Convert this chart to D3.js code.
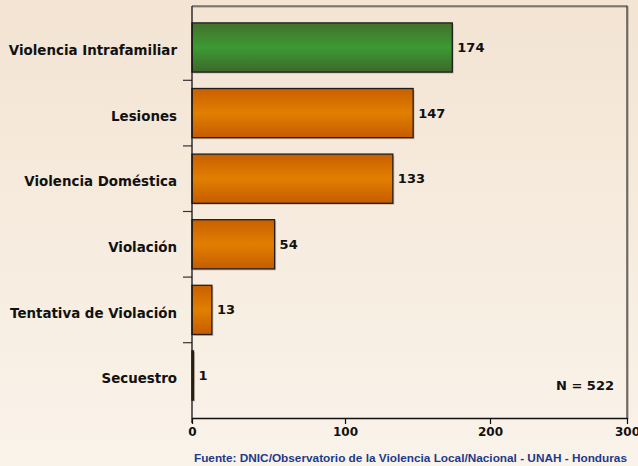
<!DOCTYPE html>
<html>
<head>
<meta charset="utf-8">
<script src="https://cdn.jsdelivr.net/npm/d3@7"></script>
<style>
  body{margin:0;padding:0;}
  svg{display:block;}
</style>
</head>
<body>
<div id="chart"></div>
<script>
const categories=["Violencia Intrafamiliar","Lesiones","Violencia Doméstica","Violación","Tentativa de Violación","Secuestro"];
const values=[174,147,133,54,13,1];
const highlight=["Violencia Intrafamiliar"];
const xTicks=[0,100,200,300];
const total="N = 522";
const source="Fuente: DNIC/Observatorio de la Violencia Local/Nacional - UNAH - Honduras";

const w=638;
const h=466;
const plotL=192, plotR=627, plotT=6, plotB=418;

const svg=d3.select("#chart").append("svg").attr("width",w).attr("height",h);
const defs=svg.append("defs");

const bg=defs.append("linearGradient").attr("id","bg").attr("x1",0).attr("y1",0).attr("x2",0).attr("y2",1);
bg.append("stop").attr("offset","0%").attr("stop-color","#f3e4d3");
bg.append("stop").attr("offset","100%").attr("stop-color","#faf3ea");

function barGrad(id,edgeTop,mid,edgeBot){
  const g=defs.append("linearGradient").attr("id",id).attr("x1",0).attr("y1",0).attr("x2",0).attr("y2",1);
  g.append("stop").attr("offset","0%").attr("stop-color",edgeTop);
  g.append("stop").attr("offset","50%").attr("stop-color",mid);
  g.append("stop").attr("offset","100%").attr("stop-color",edgeBot);
}
barGrad("orange","#c95f00","#e17f00","#c55c00");
barGrad("green","#44702b","#3b9a33","#3e682a");

svg.append("rect").attr("width",w).attr("height",h).attr("fill","url(#bg)");

// the picture's axis is slightly uneven, so follow its tick positions
const xScale=d3.scaleLinear().domain(xTicks).range([192,345,490,627]);
const yScale=d3.scaleBand().domain(categories).range([14.7,408.3]).paddingInner(0.25).paddingOuter(0.125);

// frame top/right
svg.append("path")
   .attr("d",`M${plotL},${plotT}H${plotR}V${plotB}`)
   .attr("fill","none").attr("stroke","#b9ada0").attr("stroke-width",1.5)
   .attr("transform","translate(1,1)");
svg.append("path")
   .attr("d",`M${plotL},${plotT}H${plotR}V${plotB}`)
   .attr("fill","none").attr("stroke","#333").attr("stroke-width",1.2);

const data=categories.map((c,i)=>({cat:c,val:values[i]}));

// shadow
svg.selectAll("rect.shadow")
   .data(data)
   .enter()
   .append("rect")
   .attr("class","shadow")
   .attr("x",xScale(0)+1.5)
   .attr("y",d=>yScale(d.cat)+1.5)
   .attr("width",d=>xScale(d.val)-xScale(0))
   .attr("height",yScale.bandwidth())
   .attr("fill","#c9bcae");

svg.selectAll("rect.bar")
   .data(data)
   .enter()
   .append("rect")
   .attr("class","bar")
   .attr("x",xScale(0))
   .attr("y",d=>yScale(d.cat))
   .attr("width",d=>xScale(d.val)-xScale(0))
   .attr("height",yScale.bandwidth())
   .attr("fill",d=>highlight.includes(d.cat)?"url(#green)":"url(#orange)")
   .attr("stroke","#1e1e1e")
   .attr("stroke-width",1.3);

svg.selectAll("text.val")
   .data(data)
   .enter()
   .append("text")
   .attr("class","val")
   .attr("x",d=>xScale(d.val)+5)
   .attr("y",d=>yScale(d.cat)+yScale.bandwidth()/2)
   .attr("dy","0.35em")
   .attr("font-family","DejaVu Sans")
   .attr("font-weight","bold")
   .attr("font-size",13)
   .attr("fill","#111")
   .text(d=>d.val);

// left axis: ticks between categories
const step=yScale.step();
const bounds=categories.slice(1).map(c=>yScale(c)-yScale.paddingInner()*step/2);
svg.selectAll("line.ytick")
   .data(bounds)
   .enter()
   .append("line")
   .attr("x1",plotL-9).attr("x2",plotL)
   .attr("y1",d=>d).attr("y2",d=>d)
   .attr("stroke","#333").attr("stroke-width",1.2);

svg.selectAll("text.cat")
   .data(categories)
   .enter()
   .append("text")
   .attr("class","cat")
   .attr("x",177)
   .attr("y",d=>yScale(d)+yScale.bandwidth()/2+3)
   .attr("dy","0.35em")
   .attr("text-anchor","end")
   .attr("font-family","DejaVu Sans")
   .attr("font-weight","bold")
   .attr("font-size",13.4)
   .attr("fill","#111")
   .text(d=>d);

svg.append("line")
   .attr("x1",plotL).attr("x2",plotL).attr("y1",plotT).attr("y2",plotB+5)
   .attr("stroke","#111").attr("stroke-width",1.3);

const xAxis=d3.axisBottom(xScale).tickValues(xTicks).tickSize(6).tickSizeOuter(0);
const gx=svg.append("g")
   .attr("transform",`translate(0,${plotB})`)
   .call(xAxis);
gx.select(".domain").attr("stroke","#111").attr("stroke-width",1.3);
gx.selectAll(".tick line").attr("stroke","#111").attr("stroke-width",1.2);
gx.selectAll(".tick text")
  .attr("font-family","DejaVu Sans")
  .attr("font-weight","bold")
  .attr("font-size",12)
  .attr("fill","#111")
  .attr("y",9);

svg.append("text")
   .attr("x",614).attr("y",385).attr("dy","0.35em")
   .attr("text-anchor","end")
   .attr("font-family","DejaVu Sans")
   .attr("font-weight","bold")
   .attr("font-size",13)
   .attr("fill","#111")
   .text(total);

svg.append("text")
   .attr("x",627).attr("y",458).attr("dy","0.35em")
   .attr("text-anchor","end")
   .attr("font-family","Liberation Sans")
   .attr("font-weight","bold")
   .attr("font-size",11.8)
   .attr("fill","#1c3a8c")
   .text(source);
</script>
</body>
</html>
